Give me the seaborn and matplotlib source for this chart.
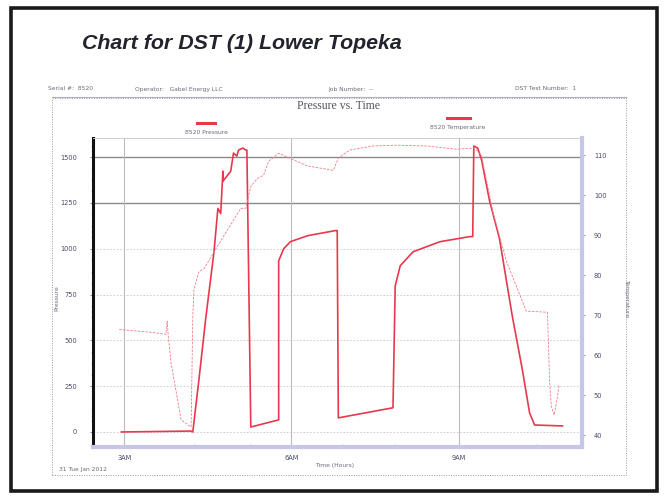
import numpy as np
import pandas as pd
import matplotlib
matplotlib.use("Agg")
import matplotlib.pyplot as plt
from matplotlib.patches import Rectangle
from matplotlib.lines import Line2D
import seaborn as sns

# pressure gauge 8520 (hours since midnight, psi)
press_hours = [2.95, 4.20, 4.23, 4.34, 4.46, 4.61, 4.68, 4.73, 4.77, 4.77, 4.91, 4.96,
               5.02, 5.05, 5.13, 5.18, 5.20, 5.27, 5.77, 5.77, 5.86, 5.98, 6.29, 6.79,
               6.82, 6.84, 7.82, 7.86, 7.95, 8.18, 8.66, 9.20, 9.25, 9.27, 9.34, 9.41,
               9.55, 9.73, 9.96, 10.14, 10.27, 10.36, 10.86]
press_psi = [0, 5, 0, 286, 615, 983, 1220, 1192, 1423, 1368, 1423, 1522,
             1505, 1538, 1549, 1538, 1538, 27, 66, 934, 1000, 1038, 1071, 1099,
             1099, 77, 132, 797, 907, 983, 1038, 1066, 1066, 1560, 1549, 1483,
             1264, 1055, 632, 340, 104, 38, 33]

# temperature gauge 8520 (hours, deg F)
temp_hours = [2.91, 3.48, 3.75, 3.77, 3.79, 3.84, 4.02, 4.20, 4.23, 4.25, 4.34, 4.43,
              4.61, 5.09, 5.18, 5.27, 5.39, 5.50, 5.59, 5.77, 6.04, 6.29, 6.75, 6.84,
              7.05, 7.46, 7.89, 8.43, 8.96, 9.29, 9.41, 9.61, 9.86, 10.21, 10.59,
              10.63, 10.66, 10.71, 10.77, 10.80]
temp_f = [66.4, 65.7, 65.2, 68.5, 64.7, 58.1, 43.8, 42.0, 69.7, 76.5, 80.8, 81.6,
          85.8, 96.7, 96.7, 102.2, 104.2, 105.0, 108.5, 110.5, 108.8, 107.3, 106.2, 109.3,
          111.3, 112.3, 112.5, 112.3, 111.5, 111.8, 109.8, 95.9, 83.3, 71.0, 70.7,
          53.1, 47.1, 45.0, 49.6, 52.6]

press_ticks = [0, 250, 500, 750, 1000, 1250, 1500]
temp_ticks = [40, 50, 60, 70, 80, 90, 100, 110]
time_ticks = [3, 6, 9]
time_labels = ["3AM", "6AM", "9AM"]

W, H = 668, 503
fig = plt.figure(figsize=(W / 100, H / 100), dpi=100)
fig.patch.set_facecolor("white")


def fx(x):
    return x / W


def fy(y):
    return 1 - y / H


# slide frame and chart box
fig.patches.append(Rectangle((fx(11), fy(491)), fx(657) - fx(11), fy(8) - fy(491),
                             transform=fig.transFigure, fill=False, lw=2.6,
                             edgecolor="#1a1a1a"))
fig.patches.append(Rectangle((fx(52), fy(475)), fx(626) - fx(52), fy(98) - fy(475),
                             transform=fig.transFigure, fill=False, lw=0.7,
                             ls=(0, (1, 1.5)), edgecolor="#9a9aa8"))
fig.lines.append(Line2D([fx(52), fx(626)], [fy(97), fy(97)], transform=fig.transFigure,
                        lw=0.8, color="#b0b0b8"))

fig.text(fx(82), fy(49), "Chart for DST (1) Lower Topeka",
         family="Liberation Sans", fontsize=15.4,
         fontweight="bold", fontstyle="italic", color="#23232e", va="baseline")

small = dict(fontsize=4.3, color="#6a6a7a", family="DejaVu Sans")
fig.text(fx(48), fy(89), "Serial #:  8520", va="center", **small)
fig.text(fx(135), fy(89), "Operator:   Gabel Energy LLC", va="center", **small)
fig.text(fx(328), fy(89), "Job Number:  --", va="center", **small)
fig.text(fx(515), fy(89), "DST Test Number:  1", va="center", **small)

fig.text(fx(338), fy(106), "Pressure vs. Time", family="Liberation Serif",
         fontsize=8.5, color="#555560", ha="center", va="center")

# legend
red = "#e8384f"
fig.lines.append(Line2D([fx(197), fx(215)], [fy(123), fy(123)], transform=fig.transFigure,
                        lw=2.2, color=red))
fig.text(fx(206), fy(132), "8520 Pressure", ha="center", va="center", **small)
fig.lines.append(Line2D([fx(447), fx(470)], [fy(118), fy(118)], transform=fig.transFigure,
                        lw=2.2, color=red))
fig.text(fx(458), fy(128), "8520 Temperature", ha="center", va="center", **small)

# axes
ax = fig.add_axes([fx(93), fy(447), fx(582) - fx(93), fy(138) - fy(447)])
ax.set_facecolor("white")
ax.set_xlim(2.44, 11.21)
ax.set_ylim(-82, 1604)

for v in press_ticks:
    if v >= 1250:
        ax.axhline(v, color="#8a8a8a", lw=1.0, zorder=0)
    else:
        ax.axhline(v, color="#c8c8cc", lw=0.6, ls=(0, (2, 2)), zorder=0)
for t in time_ticks:
    ax.axvline(t, color="#bcbcc4", lw=0.8, zorder=0)

sns.lineplot(x=press_hours, y=press_psi, sort=False, estimator=None, ax=ax,
             color=red, lw=1.2, zorder=3)

ax2 = ax.twinx()
ax2.set_ylim(37, 114.3)
sns.lineplot(x=temp_hours, y=temp_f, sort=False, estimator=None, ax=ax2,
             color="#ee7d8c", lw=0.6, zorder=2)
ax2.lines[0].set_dashes([3, 1.5])

ax.set_yticks(press_ticks)
ax.set_yticklabels([str(v) for v in press_ticks])
ax.set_yticks(np.arange(0, 1601, 62.5), minor=True)
ax.set_xticks(time_ticks)
ax.set_xticklabels(time_labels)
ax.set_xticks([4.25, 5.25, 6.9, 7.85, 10.4], minor=True)
ax2.set_yticks(temp_ticks)
ax2.set_yticklabels([str(v) for v in temp_ticks])
ax2.set_yticks(np.arange(40, 114, 2.5), minor=True)

ax.tick_params(axis="y", labelsize=4.8, labelcolor="#4a4a6a", length=2.5, width=0.6,
               color="#777", pad=9)
ax.tick_params(axis="y", which="minor", length=1.5, width=0.4, color="#999")
ax.tick_params(axis="x", labelsize=4.8, labelcolor="#4a4a6a", length=0, pad=6)
ax.tick_params(axis="x", which="minor", length=2, width=0.5, color="#888", direction="in")
ax2.tick_params(axis="y", labelsize=4.8, labelcolor="#4a4a6a", length=2.5, width=0.6,
                color="#888", pad=6)
ax2.tick_params(axis="y", which="minor", length=1.5, width=0.4, color="#999",
                direction="in")

for a in (ax, ax2):
    a.set_xlabel("")
    a.set_ylabel("")
    a.spines["top"].set_color("#c8c8d0")
    a.spines["top"].set_linestyle((0, (1, 1.5)))
    a.spines["top"].set_linewidth(0.6)
ax.spines["left"].set_color("#111111")
ax.spines["left"].set_linewidth(2.2)
ax.spines["bottom"].set_color("#c6c6e6")
ax.spines["bottom"].set_linewidth(3.0)
ax2.spines["right"].set_color("#c6c6e6")
ax2.spines["right"].set_linewidth(3.0)
ax2.spines["left"].set_visible(False)
ax2.spines["bottom"].set_visible(False)
ax.spines["right"].set_visible(False)

fig.text(fx(57), fy(298), "Pressure", rotation=90, ha="center", va="center", **small)
fig.text(fx(627), fy(298), "Temperature", rotation=270, ha="center", va="center", **small)
fig.text(fx(335), fy(466), "Time (Hours)", ha="center", va="center", **small)
fig.text(fx(59), fy(469), "31 Tue Jan 2012", ha="left", va="center", **small)

fig.savefig("out.png", dpi=100, facecolor="white")
